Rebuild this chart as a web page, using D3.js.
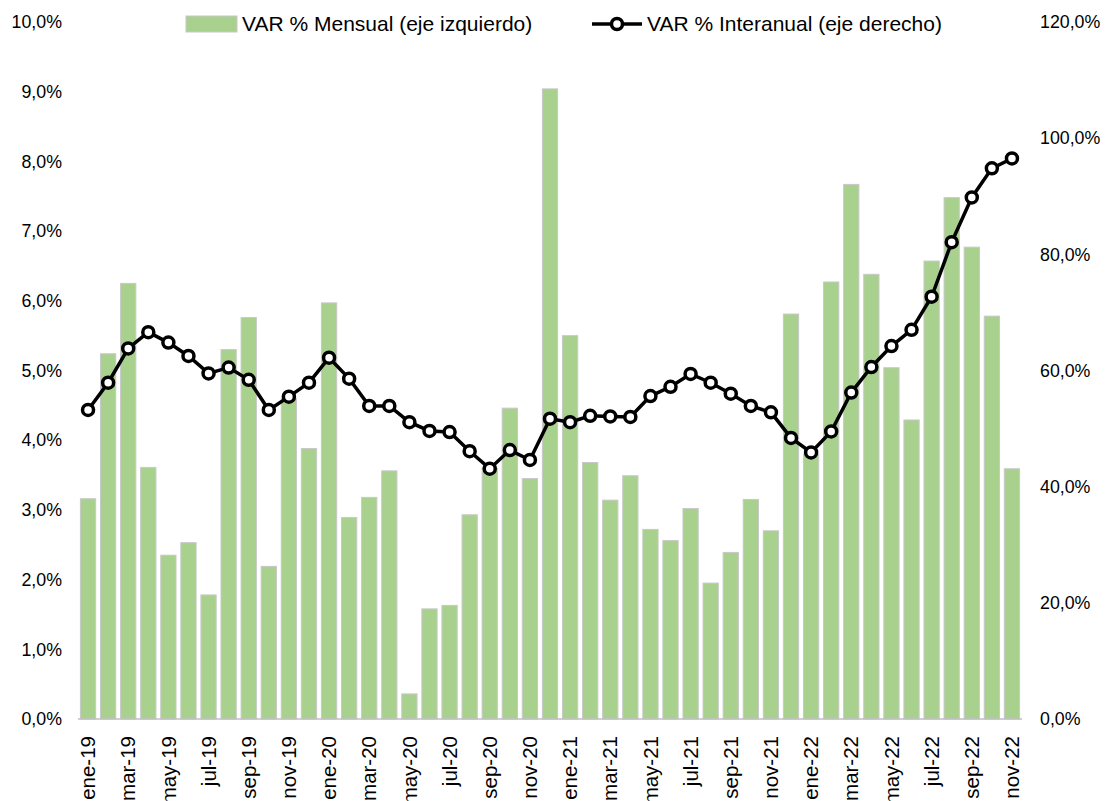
<!DOCTYPE html>
<html>
<head>
<meta charset="utf-8">
<title>VAR % Mensual / Interanual</title>
<script src="https://cdn.jsdelivr.net/npm/d3@7"></script>
<style>
  body { margin: 0; background: #fff; }
  text { font-family: "Liberation Sans", Arial, sans-serif; fill: #000; }
</style>
</head>
<body>
<svg width="1105" height="801"></svg>
<script>
const months = ['ene','feb','mar','abr','may','jun','jul','ago','sep','oct','nov','dic'];
const years = ['19','20','21','22'];
const categories = [];
years.forEach(y => months.forEach(m => categories.push(m + '-' + y)));
categories.splice(47); // hasta nov-22

const mensual = [
  3.16, 5.24, 6.25, 3.61, 2.35, 2.53, 1.78, 5.30, 5.76, 2.19, 4.60, 3.88,
  5.97, 2.89, 3.18, 3.56, 0.36, 1.58, 1.63, 2.93, 3.60, 4.46, 3.45, 9.04,
  5.50, 3.68, 3.14, 3.49, 2.72, 2.56, 3.02, 1.95, 2.39, 3.15, 2.70, 5.81,
  3.80, 6.27, 7.67, 6.38, 5.04, 4.29, 6.57, 7.48, 6.77, 5.78, 3.59
];
const interanual = [
  53.2, 57.9, 63.8, 66.6, 64.8, 62.5, 59.5, 60.5, 58.4, 53.2, 55.5, 57.9,
  62.2, 58.6, 53.9, 53.9, 51.1, 49.6, 49.4, 46.1, 43.1, 46.3, 44.6, 51.7,
  51.1, 52.2, 52.1, 52.0, 55.6, 57.2, 59.4, 57.9, 56.0, 53.9, 52.8, 48.4,
  45.9, 49.5, 56.2, 60.6, 64.2, 67.0, 72.7, 82.1, 89.8, 94.8, 96.5
];
const leftTicks = [0,1,2,3,4,5,6,7,8,9,10];
const rightTicks = [0,20,40,60,80,100,120];

const svg = d3.select('svg');
const m = {top: 22, right: 83, bottom: 82, left: 78};
const W = 1105, H = 801;
const font = '"Liberation Sans", Arial, sans-serif';

const x = d3.scaleBand().domain(categories).range([m.left, W - m.right]).paddingInner(0.24).paddingOuter(0.12);
const yL = d3.scaleLinear().domain([0, 10]).range([H - m.bottom, m.top]);
const yR = d3.scaleLinear().domain([0, 120]).range([H - m.bottom, m.top]);

const fmt = v => d3.format('.1f')(v).replace('.', ',') + '%';

// barras
svg.append('g').selectAll('rect').data(mensual).join('rect')
  .attr('x', (d, i) => x(categories[i]))
  .attr('y', d => yL(d))
  .attr('width', x.bandwidth())
  .attr('height', d => yL(0) - yL(d))
  .attr('fill', '#a9d18e')
  .attr('stroke', '#c8c8c8')
  .attr('stroke-width', 1);

// eje x
svg.append('line')
  .attr('x1', m.left).attr('x2', W - m.right)
  .attr('y1', yL(0)).attr('y2', yL(0))
  .attr('stroke', '#bfbfbf').attr('stroke-width', 1.5);

const xAxis = svg.append('g')
  .attr('transform', `translate(0,${yL(0)})`)
  .call(d3.axisBottom(x).tickSize(0).tickValues(categories.filter((d, i) => i % 2 === 0)));
xAxis.select('.domain').remove();
xAxis.selectAll('text')
  .attr('transform', 'rotate(-90)')
  .attr('text-anchor', 'end')
  .attr('x', -17).attr('y', 0).attr('dy', '0.35em')
  .style('font-size', '20.5px')
  .style('font-family', font);

// eje izquierdo
const axL = svg.append('g')
  .attr('transform', `translate(${m.left},0)`)
  .call(d3.axisLeft(yL).tickValues(leftTicks).tickSize(0).tickPadding(16).tickFormat(fmt));
axL.select('.domain').remove();
axL.selectAll('text').style('font-size', '17.8px').style('font-family', font);

// eje derecho
const axR = svg.append('g')
  .attr('transform', `translate(${W - m.right},0)`)
  .call(d3.axisRight(yR).tickValues(rightTicks).tickSize(0).tickPadding(18).tickFormat(fmt));
axR.select('.domain').remove();
axR.selectAll('text').style('font-size', '17.8px').style('font-family', font);

// línea interanual
const cx = i => x(categories[i]) + x.bandwidth() / 2;
svg.append('path')
  .datum(interanual)
  .attr('d', d3.line().x((d, i) => cx(i)).y(d => yR(d)))
  .attr('fill', 'none')
  .attr('stroke', '#000')
  .attr('stroke-width', 3.5);

svg.append('g').selectAll('circle').data(interanual).join('circle')
  .attr('cx', (d, i) => cx(i))
  .attr('cy', d => yR(d))
  .attr('r', 5.5)
  .attr('fill', '#fff')
  .attr('stroke', '#000')
  .attr('stroke-width', 3.5);

// leyenda
const lg = svg.append('g');
lg.append('rect').attr('x', 186).attr('y', 16).attr('width', 51).attr('height', 16)
  .attr('fill', '#a9d18e').attr('stroke', '#c8c8c8');
lg.append('text').attr('x', 242).attr('y', 24).attr('dy', '0.35em')
  .style('font-size', '21px').text('VAR % Mensual (eje izquierdo)');
lg.append('line').attr('x1', 592).attr('x2', 642).attr('y1', 24).attr('y2', 24)
  .attr('stroke', '#000').attr('stroke-width', 3.5);
lg.append('circle').attr('cx', 617).attr('cy', 24).attr('r', 5.5)
  .attr('fill', '#fff').attr('stroke', '#000').attr('stroke-width', 3.5);
lg.append('text').attr('x', 647).attr('y', 24).attr('dy', '0.35em')
  .style('font-size', '21px').text('VAR % Interanual (eje derecho)');
</script>
</body>
</html>
